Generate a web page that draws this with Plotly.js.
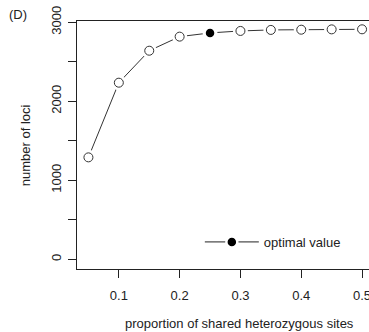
<!DOCTYPE html>
<html><head><meta charset="utf-8">
<script src="https://cdn.plot.ly/plotly-3.0.1.min.js"></script>
<style>html,body{margin:0;padding:0;overflow:hidden;background:#fff;width:369px;height:332px}</style>
</head><body><div id="chart" style="width:400px;height:332px"></div>
<script>
var propShared = [0.05, 0.10, 0.15, 0.20, 0.25, 0.30, 0.35, 0.40, 0.45, 0.50];
var nLoci = [1290, 2235, 2640, 2818, 2865, 2890, 2903, 2906, 2910, 2911];
var optimalIndex = 4;
var xTicks = [0.1, 0.2, 0.3, 0.4, 0.5];
var xTickLabels = ['0.1', '0.2', '0.3', '0.4', '0.5'];
var yTicks = [0, 500, 1000, 1500, 2000, 2500, 3000];
var yTickLabels = ['0', '', '1000', '', '2000', '', '3000'];

var FONT = 'Liberation Sans, Arial, Helvetica, sans-serif';
var INK = '#222';

var traces = [
  {x: propShared, y: nLoci, mode: 'lines', line: {color: '#333', width: 1}, showlegend: false, hoverinfo: 'skip'},
  {x: propShared, y: nLoci, mode: 'markers', marker: {color: '#fff', size: 15, line: {width: 0}}, showlegend: false, hoverinfo: 'skip'},
  {x: propShared, y: nLoci, mode: 'markers', marker: {color: '#fff', size: 9, line: {color: '#333', width: 1}}, showlegend: false},
  {x: [propShared[optimalIndex]], y: [nLoci[optimalIndex]], mode: 'lines+markers', name: 'optimal value',
   line: {color: '#222', width: 1}, marker: {color: '#000', size: 11, line: {color: '#fff', width: 2.5}}, showlegend: true}
];

var layout = {
  width: 400, height: 332,
  margin: {l: 77, r: 26.5, t: 21, b: 63},
  paper_bgcolor: '#fff', plot_bgcolor: '#fff',
  font: {family: FONT, size: 13, color: INK},
  showlegend: true,
  legend: {x: 0.415, xanchor: 'left', y: 0.109, yanchor: 'middle', bgcolor: 'rgba(0,0,0,0)',
           font: {family: FONT, size: 13, color: INK}, itemwidth: 54, borderwidth: 0},
  xaxis: {range: [0.0312, 0.518], showgrid: false, zeroline: false, showline: true, mirror: true,
          linecolor: INK, linewidth: 1, ticks: 'outside', ticklen: 8, tickcolor: INK,
          tickvals: xTicks, ticktext: xTickLabels, ticklabelstandoff: 6,
          tickfont: {family: FONT, size: 13, color: INK}},
  yaxis: {range: [-123, 3016], showgrid: false, zeroline: false, showline: true, mirror: false,
          linecolor: INK, linewidth: 1, ticks: 'outside', ticklen: 8, tickcolor: INK,
          tickvals: yTicks, ticktext: yTickLabels, tickangle: -90, ticklabelstandoff: 2,
          tickfont: {family: FONT, size: 13, color: INK}},
  annotations: [
    {text: 'proportion of shared heterozygous sites', xref: 'paper', yref: 'paper', x: 0.55, y: -0.22,
     xanchor: 'center', yanchor: 'middle', showarrow: false, font: {family: FONT, size: 13, color: INK}},
    {text: 'number of loci', xref: 'paper', yref: 'paper', x: -0.175, y: 0.5, textangle: -90,
     xanchor: 'center', yanchor: 'middle', showarrow: false, font: {family: FONT, size: 13, color: INK}},
    {text: '(D)', xref: 'paper', yref: 'paper', x: -0.2, y: 1.025,
     xanchor: 'center', yanchor: 'middle', showarrow: false, font: {family: FONT, size: 13, color: INK}}
  ]
};
Plotly.newPlot('chart', traces, layout, {displayModeBar: false, staticPlot: true});
</script></body></html>
